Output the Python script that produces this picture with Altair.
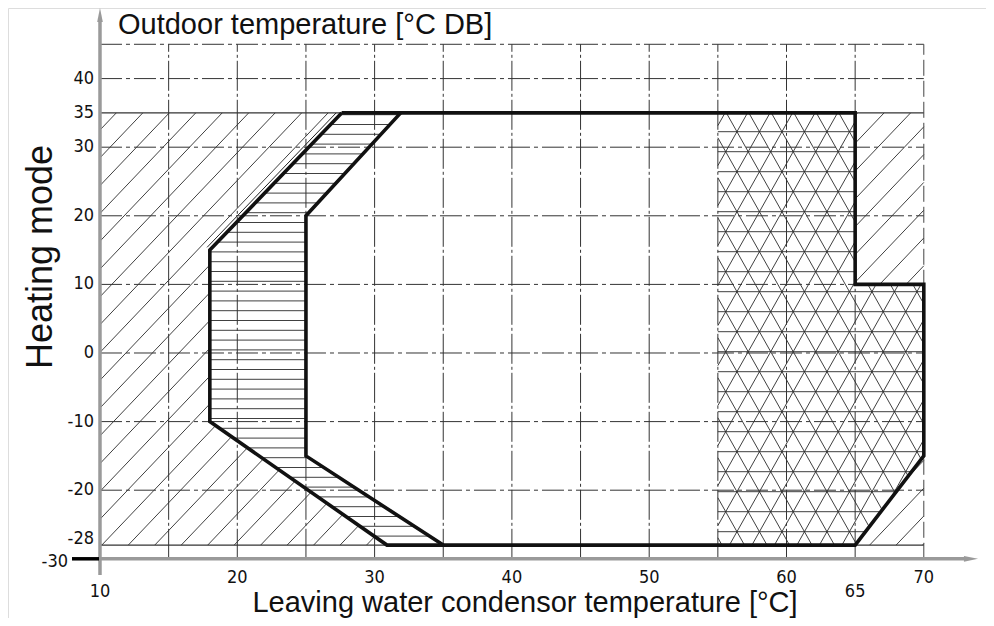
import altair as alt
import numpy as np
import pandas as pd

# ---------------- data ----------------
x_labels_main = [20, 30, 40, 50, 60, 70]
x_labels_low = [10, 65]
y_labels = [40, 35, 30, 20, 10, 0, -10, -20]
y_label_28 = [-28]
y_label_30 = [-30]

h_grid_dashdot = [45, 40, 30, 20, 10, 0, -10, -20]
h_grid_solid = [35, -28]
v_grid = [15, 20, 25, 30, 35, 40, 45, 50, 55, 60, 65]
v_grid_edge = [70]
grid_x_range = [10, 70]
grid_y_range = [-30, 45]

# operating envelope (thick outline)
envelope_x = [27.6, 65, 65, 70, 70, 65, 30.9, 18, 18, 27.6]
envelope_y = [35, 35, 10, 10, -15, -28, -28, -10, 15, 35]
# inner boundary (thick)
inner_x = [31.9, 25, 25, 35]
inner_y = [35, 20, -15, -28]
# thin edge line along the upper-left diagonal
edge_x = [17.8, 27.2]
edge_y = [15.4, 35]

# hatched regions
left_hatch_x = [10, 27.6, 18, 18, 30.9, 10]
left_hatch_y = [35, 35, 15, -10, -28, -28]
right_top_x = [65, 70, 70, 65]
right_top_y = [35, 35, 10, 10]
right_bot_x = [70, 70, 65]
right_bot_y = [-15, -28, -28]
band_x = [27.6, 31.9, 25, 25, 35, 30.9, 18, 18]
band_y = [35, 35, 20, -15, -28, -28, -10, 15]
tri_x = [55, 65, 65, 70, 70, 65, 55]
tri_y = [35, 35, 10, 10, -15, -28, -28]

# ---------------- layout ----------------
W, H = 978, 610
XMIN, XMAX = 3.30, 74.53
YMIN, YMAX = -38.63, 50.29
SX = W / (XMAX - XMIN)
SY = H / (YMAX - YMIN)

x_scale = alt.Scale(domain=[XMIN, XMAX], nice=False, zero=False)
y_scale = alt.Scale(domain=[YMIN, YMAX], nice=False, zero=False)

LABEL_FONT = "Liberation Sans Narrow, Arial Narrow, DejaVu Sans Condensed, Liberation Sans, sans-serif"
TITLE_FONT = "Liberation Sans, Arial, sans-serif"
LABEL_SIZE = 18


def to_px(x, y):
    return np.array([(x - XMIN) * SX, (YMAX - y) * SY])


def from_px(p):
    return p[0] / SX + XMIN, YMAX - p[1] / SY


def hatch(px, py, direction, anchor, step):
    P = np.array([to_px(a, b) for a, b in zip(px, py)])
    d = np.array(direction, float)
    d /= np.linalg.norm(d)
    n = np.array([-d[1], d[0]])
    anchor = np.array(anchor, float)
    step = np.array(step, float)
    c0 = n @ anchor
    dc = n @ step
    vals = P @ n
    k1 = (vals.min() - c0) / dc
    k2 = (vals.max() - c0) / dc
    rows = []
    for k in range(int(np.floor(min(k1, k2))) - 1, int(np.ceil(max(k1, k2))) + 2):
        c = c0 + k * dc
        s = P @ n - c
        pts = []
        m = len(P)
        for i in range(m):
            a, b = P[i], P[(i + 1) % m]
            sa, sb = s[i], s[(i + 1) % m]
            if (sa > 0) != (sb > 0):
                t = sa / (sa - sb)
                pts.append(a + (b - a) * t)
        pts.sort(key=lambda p: p @ d)
        for j in range(0, len(pts) - 1, 2):
            xa, ya = from_px(pts[j])
            xb, yb = from_px(pts[j + 1])
            rows.append({"x": xa, "y": ya, "x2": xb, "y2": yb})
    return pd.DataFrame(rows, columns=["x", "y", "x2", "y2"])


diag_dir = (1, -1.05)
diag_anchor = (92, 122)
diag_step = (0, 27.8)

hatch_frames = [
    hatch(left_hatch_x, left_hatch_y, diag_dir, diag_anchor, diag_step),
    hatch(right_top_x, right_top_y, diag_dir, diag_anchor, diag_step),
    hatch(right_bot_x, right_bot_y, diag_dir, diag_anchor, diag_step),
    hatch(band_x, band_y, (1, 0), (0, 116.5), (0, 9.8)),
    hatch(tri_x, tri_y, (1, 0), (0, 283.7), (0, 20)),
    hatch(tri_x, tri_y, (11.25, -20), (717.7, 303.7), (22.5, 0)),
    hatch(tri_x, tri_y, (-11.25, -20), (717.7, 303.7), (22.5, 0)),
]
hatch_df = pd.concat(hatch_frames, ignore_index=True)


def X(f):
    return alt.X(f, scale=x_scale, axis=None)


def Y(f):
    return alt.Y(f, scale=y_scale, axis=None)


def label_df(values):
    return pd.DataFrame({"v": values, "t": [str(v) for v in values]})


layers = []

# hatching
layers.append(
    alt.Chart(hatch_df).mark_rule(color="#2a2a2a", strokeWidth=0.9).encode(
        x=X("x:Q"), y=Y("y:Q"), x2="x2:Q", y2="y2:Q"
    )
)

# grid lines
hdd = pd.DataFrame({"y": h_grid_dashdot, "x": grid_x_range[0], "x2": grid_x_range[1]})
hso = pd.DataFrame({"y": h_grid_solid, "x": grid_x_range[0], "x2": grid_x_range[1]})
vg = pd.DataFrame({"x": v_grid, "y": grid_y_range[0], "y2": grid_y_range[1]})
ve = pd.DataFrame({"x": v_grid_edge, "y": grid_y_range[0], "y2": grid_y_range[1]})

layers.append(
    alt.Chart(hdd).mark_rule(color="#333333", strokeWidth=1, strokeDash=[22, 4, 4, 4]).encode(
        x=X("x:Q"), x2="x2:Q", y=Y("y:Q")
    )
)
layers.append(
    alt.Chart(hso).mark_rule(color="#333333", strokeWidth=1.1).encode(
        x=X("x:Q"), x2="x2:Q", y=Y("y:Q")
    )
)
layers.append(
    alt.Chart(vg).mark_rule(color="#333333", strokeWidth=1, strokeDash=[30, 3, 3, 3]).encode(
        x=X("x:Q"), y=Y("y:Q"), y2="y2:Q"
    )
)
layers.append(
    alt.Chart(ve).mark_rule(color="#444444", strokeWidth=1, strokeDash=[16, 5]).encode(
        x=X("x:Q"), y=Y("y:Q"), y2="y2:Q"
    )
)

# thin edge line
edge_df = pd.DataFrame({"x": edge_x, "y": edge_y, "i": range(len(edge_x))})
layers.append(
    alt.Chart(edge_df).mark_line(color="#222222", strokeWidth=1).encode(
        x=X("x:Q"), y=Y("y:Q"), order="i:Q"
    )
)

# envelope outlines
env_df = pd.DataFrame({"x": envelope_x, "y": envelope_y, "i": range(len(envelope_x))})
inn_df = pd.DataFrame({"x": inner_x, "y": inner_y, "i": range(len(inner_x))})
for df in (env_df, inn_df):
    layers.append(
        alt.Chart(df).mark_line(color="#111111", strokeWidth=3.6, strokeJoin="miter").encode(
            x=X("x:Q"), y=Y("y:Q"), order="i:Q"
        )
    )

# axes (grey lines with arrows)
one = alt.Data(values=[{}])
AXIS_GREY = "#9a9a9a"
layers.append(
    alt.Chart(one).mark_rule(color=AXIS_GREY, strokeWidth=3.5).encode(
        x=alt.X(datum=10, scale=x_scale, axis=None), y=alt.value(567), y2=alt.value(10)
    )
)
layers.append(
    alt.Chart(one).mark_rule(color=AXIS_GREY, strokeWidth=3.5).encode(
        y=alt.Y(datum=-30, scale=y_scale, axis=None), x=alt.value(92), x2=alt.value(958)
    )
)
layers.append(
    alt.Chart(one).mark_point(
        shape="M0,-1L0.4,1L-0.4,1Z", filled=True, color=AXIS_GREY, size=200, opacity=1
    ).encode(x=alt.X(datum=10, scale=x_scale, axis=None), y=alt.value(7))
)
layers.append(
    alt.Chart(one).mark_point(
        shape="M1,0L-1,-0.4L-1,0.4Z", filled=True, color=AXIS_GREY, size=200, opacity=1
    ).encode(y=alt.Y(datum=-30, scale=y_scale, axis=None), x=alt.value(963))
)
# black tick at -30
layers.append(
    alt.Chart(one).mark_rule(color="#000000", strokeWidth=3.5).encode(
        y=alt.Y(datum=-30, scale=y_scale, axis=None), x=alt.value(64), x2=alt.value(91)
    )
)

# tick labels
layers.append(
    alt.Chart(label_df(y_labels)).mark_text(
        font=LABEL_FONT, fontSize=LABEL_SIZE, align="right", baseline="middle", color="#111"
    ).encode(y=Y("v:Q"), x=alt.value(86), text="t:N")
)
layers.append(
    alt.Chart(label_df(y_label_28)).mark_text(
        font=LABEL_FONT, fontSize=LABEL_SIZE, align="right", baseline="middle", dy=-6, color="#111"
    ).encode(y=Y("v:Q"), x=alt.value(86), text="t:N")
)
layers.append(
    alt.Chart(label_df(y_label_30)).mark_text(
        font=LABEL_FONT, fontSize=LABEL_SIZE, align="right", baseline="middle", dy=3, color="#111"
    ).encode(y=Y("v:Q"), x=alt.value(60), text="t:N")
)
layers.append(
    alt.Chart(label_df(x_labels_main)).mark_text(
        font=LABEL_FONT, fontSize=LABEL_SIZE, align="center", baseline="middle", color="#111"
    ).encode(x=X("v:Q"), y=alt.value(570), text="t:N")
)
layers.append(
    alt.Chart(label_df(x_labels_low)).mark_text(
        font=LABEL_FONT, fontSize=LABEL_SIZE, align="center", baseline="middle", color="#111"
    ).encode(x=X("v:Q"), y=alt.value(584), text="t:N")
)

# titles
titles = [
    ("Outdoor temperature [°C DB]", 110, 26, 29, "left", 0),
    ("Leaving water condensor temperature [°C]", 517, 604, 29, "center", 0),
    ("Heating mode", 44, 249, 36, "center", 270),
]
for txt, tx, ty, fs, al, ang in titles:
    layers.append(
        alt.Chart(one).mark_text(
            text=txt, font=TITLE_FONT, fontSize=fs, align=al, baseline="alphabetic",
            angle=ang, color="#111"
        ).encode(x=alt.value(tx), y=alt.value(ty))
    )

chart = (
    alt.layer(*layers)
    .properties(width=W, height=H, padding=0, autosize=alt.AutoSizeParams(type="none"))
    .configure_view(stroke=None)
    .configure(background="white")
)

chart.save("out.html", embed_options={"renderer": "svg", "actions": False})
